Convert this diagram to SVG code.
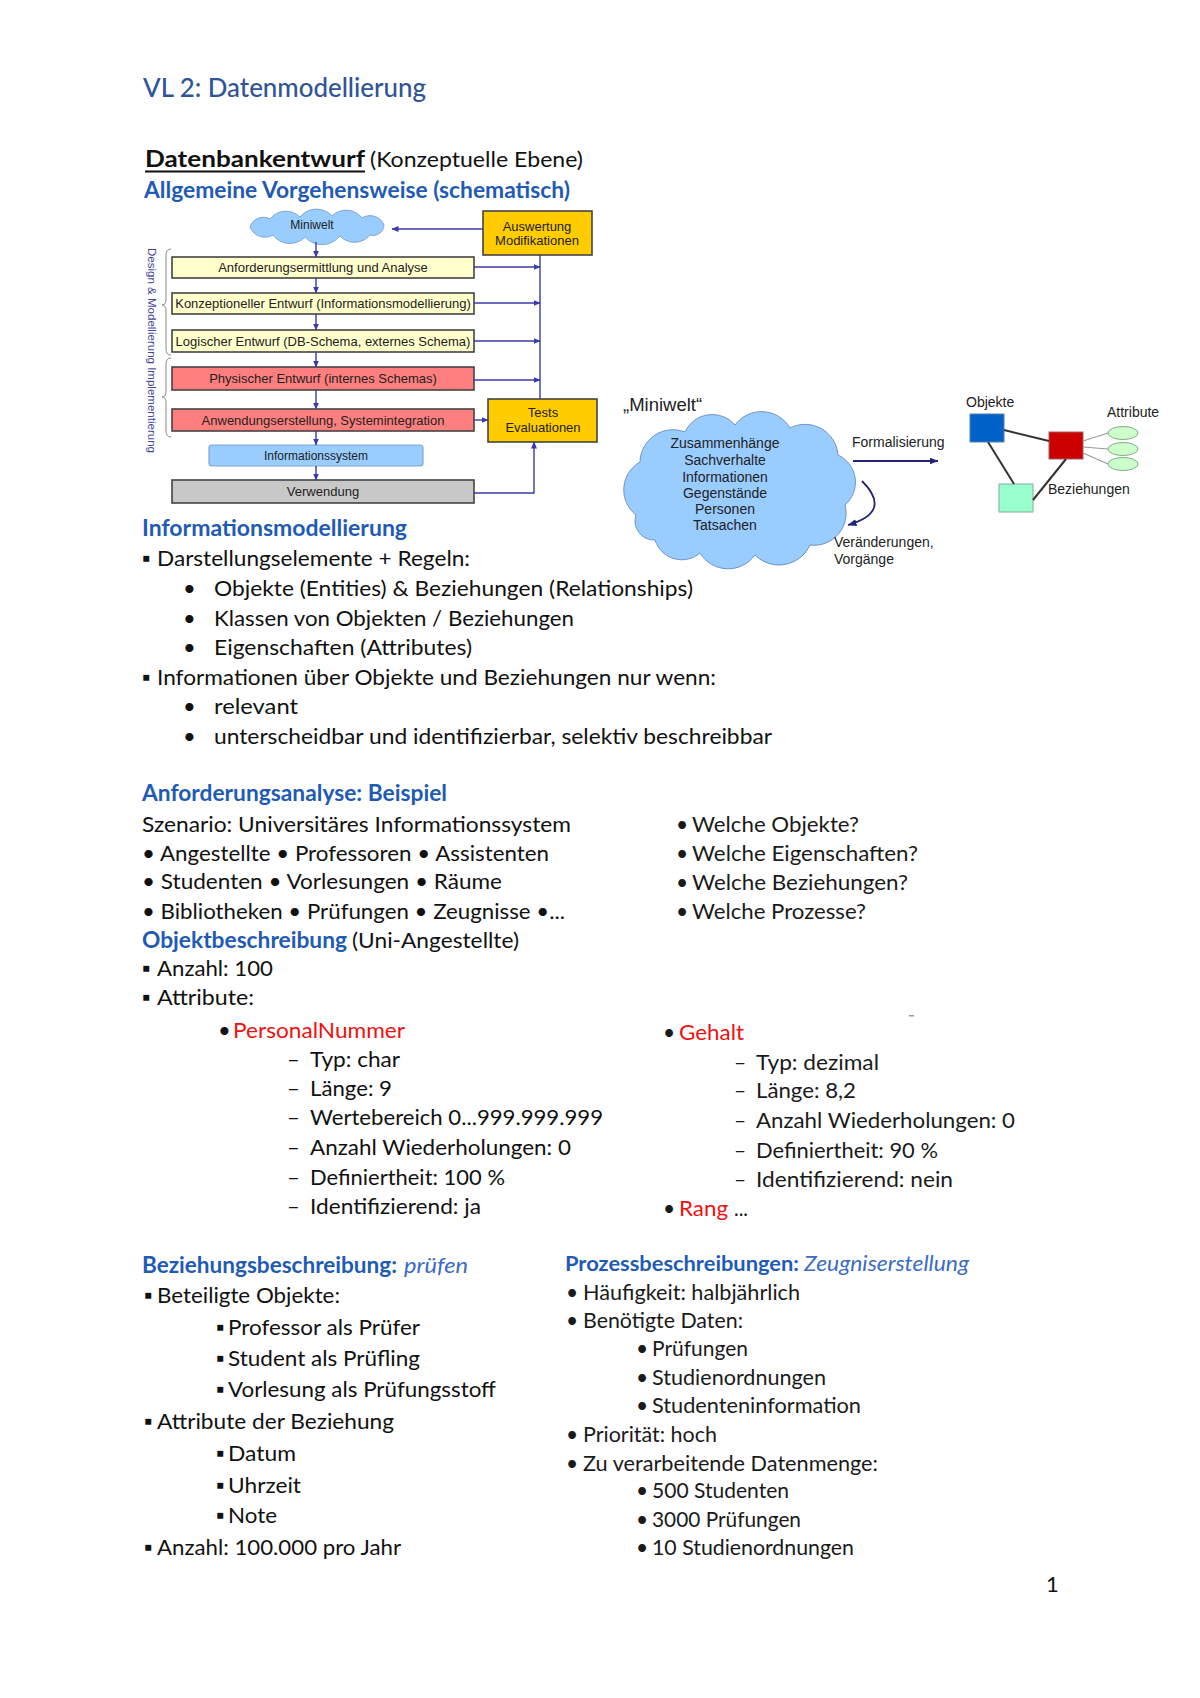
<svg xmlns="http://www.w3.org/2000/svg" width="1200" height="1698" viewBox="0 0 1200 1698">
<defs>
<marker id="ah" markerUnits="userSpaceOnUse" markerWidth="7" markerHeight="6" refX="6.5" refY="3" orient="auto"><path d="M0,0 L7,3 L0,6 z" fill="#3A3AAA"/></marker>
<marker id="ah2" markerUnits="userSpaceOnUse" markerWidth="9" markerHeight="7" refX="8.5" refY="3.5" orient="auto"><path d="M0,0 L9,3.5 L0,7 z" fill="#23237A"/></marker>
</defs>
<style>
.t{font-family:Lato,'Open Sans','DejaVu Sans',sans-serif;font-size:22px;fill:#111}
.s{font-size:21px;fill:#1a1a1a}
.b{font-weight:bold}
.h{font-weight:bold;fill:#1F5BB5}
.i{font-style:italic;font-weight:normal;fill:#3A6CC4}
.r{fill:#F01010}
.a{font-family:'Liberation Sans',Arial,sans-serif;font-size:13px;fill:#222;text-anchor:middle}
.a14{font-family:'Liberation Sans',Arial,sans-serif;font-size:14px;fill:#222}
.bx{stroke:#444;stroke-width:1.6}
.c{stroke:#3A3AAA;stroke-width:1.4;fill:none}
.n{stroke:#23237A;stroke-width:1.8;fill:none}
.er{stroke:#333;stroke-width:2;fill:none}
.eg{stroke:#999;stroke-width:1.2;fill:none}
</style>
<rect width="1200" height="1698" fill="#fff"/>

<g id="header">
<text class="t" x="143" y="97" style="font-size:27px;fill:#2F5597;font-weight:500" textLength="283" lengthAdjust="spacingAndGlyphs">VL 2: Datenmodellierung</text>
<text class="t b" x="145" y="167" textLength="220" lengthAdjust="spacingAndGlyphs">Datenbankentwurf</text>
<line x1="145" y1="171.5" x2="365" y2="171.5" stroke="#111" stroke-width="2"/>
<text class="t" x="370" y="167" textLength="213" lengthAdjust="spacingAndGlyphs">(Konzeptuelle Ebene)</text>
<text class="t h" x="144" y="198" textLength="426" lengthAdjust="spacingAndGlyphs">Allgemeine Vorgehensweise (schematisch)</text>
</g>

<!-- Flowchart -->
<g id="side-label">
<text x="148" y="248" transform="rotate(90 148 248)" style="font-family:'Liberation Sans',Arial,sans-serif;font-size:11.5px;fill:#4646A0" textLength="205" lengthAdjust="spacingAndGlyphs">Design &amp; Modellierung Implementierung</text>
<path d="M171,249 Q166,249 166,255 L166,299 Q166,305 162,305 Q166,305 166,311 L166,349 Q166,355 171,355" fill="none" stroke="#888" stroke-width="1"/>
<path d="M171,358 Q166,358 166,364 L166,391 Q166,397 162,397 Q166,397 166,403 L166,431 Q166,437 171,437" fill="none" stroke="#888" stroke-width="1"/>
</g>

<g id="n-miniwelt">
<path d="M250,227 A14,14 0 0 1 270,219 A20,20 0 0 1 300,217 A21,21 0 0 1 332,216 A20,20 0 0 1 362,218 A15,15 0 0 1 384,225 A11,11 0 0 1 370,235 A20,20 0 0 1 340,236 A23,23 0 0 1 305,237 A21,21 0 0 1 273,235 A16,16 0 0 1 250,227 Z" fill="#99CCFF" stroke="#7FA6D6" stroke-width="1"/>
<text class="a" x="312" y="229" style="font-size:12px">Miniwelt</text>
</g>
<g id="n-auswertung">
<rect x="483" y="211" width="109" height="44" fill="#FFCC00" class="bx"/>
<text class="a" x="537" y="231">Auswertung</text>
<text class="a" x="537" y="245">Modifikationen</text>
</g>
<g id="n-anforderung">
<rect x="172" y="257" width="302" height="21" fill="#FFFFCC" class="bx"/>
<text class="a" x="323" y="272">Anforderungsermittlung und Analyse</text>
</g>
<g id="n-konzeptionell">
<rect x="172" y="293" width="302" height="21" fill="#FFFFCC" class="bx"/>
<text class="a" x="323" y="308">Konzeptioneller Entwurf (Informationsmodellierung)</text>
</g>
<g id="n-logisch">
<rect x="172" y="330" width="302" height="22" fill="#FFFFCC" class="bx"/>
<text class="a" x="323" y="345.5">Logischer Entwurf (DB-Schema, externes Schema)</text>
</g>
<g id="n-physisch">
<rect x="172" y="367" width="302" height="23" fill="#FF7F7F" class="bx"/>
<text class="a" x="323" y="383">Physischer Entwurf (internes Schemas)</text>
</g>
<g id="n-anwendung">
<rect x="172" y="409" width="302" height="22" fill="#FF7F7F" class="bx"/>
<text class="a" x="323" y="424.5">Anwendungserstellung, Systemintegration</text>
</g>
<g id="n-infosystem">
<rect x="209" y="445" width="214" height="21" rx="3" fill="#99CCFF" stroke="#7FA6D6" stroke-width="1.2"/>
<text class="a" x="316" y="460" style="font-size:12px">Informationssystem</text>
</g>
<g id="n-verwendung">
<rect x="172" y="480" width="302" height="23" fill="#C8C8C8" class="bx"/>
<text class="a" x="323" y="496">Verwendung</text>
</g>
<g id="n-tests">
<rect x="488" y="399" width="109" height="43" fill="#FFCC00" class="bx"/>
<text class="a" x="543" y="417">Tests</text>
<text class="a" x="543" y="432">Evaluationen</text>
</g>

<!-- Right diagram -->
<g id="n-miniwelt-cloud">
<text class="a14" x="623" y="411" style="font-size:18.5px">„Miniwelt“</text>
<path d="M636,515 A32,32 0 0 1 640,462 A33,33 0 0 1 685,432 A30,30 0 0 1 735,425 A33,33 0 0 1 790,428 A33,33 0 0 1 838,455 A30,30 0 0 1 845,505 A32,32 0 0 1 810,545 A34,34 0 0 1 755,555 A33,33 0 0 1 700,553 A28,28 0 0 1 655,540 A19,19 0 0 1 636,515 Z" fill="#99CCFF" stroke="#6F93C4" stroke-width="1"/>
<g class="a14" text-anchor="middle">
<text x="725" y="448" text-anchor="middle">Zusammenhänge</text>
<text x="725" y="465" text-anchor="middle">Sachverhalte</text>
<text x="725" y="482" text-anchor="middle">Informationen</text>
<text x="725" y="498" text-anchor="middle">Gegenstände</text>
<text x="725" y="514" text-anchor="middle">Personen</text>
<text x="725" y="530" text-anchor="middle">Tatsachen</text>
</g>
</g>
<g id="labels-right">
<text class="a14" x="852" y="447">Formalisierung</text>
<text class="a14" x="834" y="547">Veränderungen,</text>
<text class="a14" x="834" y="564">Vorgänge</text>
</g>
<g id="n-objekte">
<text class="a14" x="966" y="407">Objekte</text>
<rect x="970" y="414" width="34" height="28" fill="#0062C8" stroke="#5580B0" stroke-width="1"/>
</g>
<g id="n-beziehung-red">
<rect x="1049" y="432" width="34" height="27" fill="#CC0000" stroke="#A06060" stroke-width="1"/>
</g>
<g id="n-beziehung-green">
<rect x="999" y="484" width="34" height="28" fill="#99FFCC" stroke="#88AA99" stroke-width="1"/>
<text class="a14" x="1048" y="494">Beziehungen</text>
</g>
<g id="n-attribute">
<text class="a14" x="1107" y="417">Attribute</text>
<ellipse cx="1123" cy="433" rx="15" ry="6.5" fill="#CCFFCC" stroke="#7FAF7F" stroke-width="1"/>
<ellipse cx="1123" cy="449" rx="15" ry="6.5" fill="#CCFFCC" stroke="#7FAF7F" stroke-width="1"/>
<ellipse cx="1123" cy="464" rx="15" ry="6.5" fill="#CCFFCC" stroke="#7FAF7F" stroke-width="1"/>
</g>

<g id="connectors">
<path class="c" d="M316,242 V257" marker-end="url(#ah)"/>
<path class="c" d="M316,278 V293" marker-end="url(#ah)"/>
<path class="c" d="M316,314 V330" marker-end="url(#ah)"/>
<path class="c" d="M316,352 V367" marker-end="url(#ah)"/>
<path class="c" d="M316,390 V409" marker-end="url(#ah)"/>
<path class="c" d="M316,431 V445" marker-end="url(#ah)"/>
<path class="c" d="M316,466 V480" marker-end="url(#ah)"/>
<path class="c" d="M483,229 H392" marker-end="url(#ah)"/>
<path class="c" d="M540,255 V399"/>
<path class="c" d="M474,267 H540" marker-end="url(#ah)"/>
<path class="c" d="M474,303 H540" marker-end="url(#ah)"/>
<path class="c" d="M474,341 H540" marker-end="url(#ah)"/>
<path class="c" d="M474,380 H540" marker-end="url(#ah)"/>
<path class="c" d="M474,420 H488" marker-end="url(#ah)"/>
<path class="c" d="M474,493 H534 V442" marker-end="url(#ah)"/>
<path class="n" d="M853,461 H938" marker-end="url(#ah2)"/>
<path class="n" d="M862,481 Q893,512 848,525" marker-end="url(#ah2)"/>
<path class="er" d="M1004,430 L1049,441"/>
<path class="er" d="M988,442 L1014,484"/>
<path class="er" d="M1066,459 L1033,500"/>
<path class="eg" d="M1083,441 L1108,433"/>
<path class="eg" d="M1083,447 L1108,449"/>
<path class="eg" d="M1083,453 L1108,464"/>
</g>

<!-- Section A -->
<g id="sec-informationsmodellierung">
<text class="t h" x="142" y="536" textLength="265" lengthAdjust="spacingAndGlyphs">Informationsmodellierung</text>
<text class="t" x="142" y="566">▪</text>
<text class="t" x="157" y="566" textLength="313" lengthAdjust="spacingAndGlyphs">Darstellungselemente + Regeln:</text>
<text class="t" x="183" y="596">•</text>
<text class="t" x="214" y="596" textLength="479" lengthAdjust="spacingAndGlyphs">Objekte (Entities) &amp; Beziehungen (Relationships)</text>
<text class="t" x="183" y="626">•</text>
<text class="t" x="214" y="626" textLength="360" lengthAdjust="spacingAndGlyphs">Klassen von Objekten / Beziehungen</text>
<text class="t" x="183" y="655">•</text>
<text class="t" x="214" y="655" textLength="258" lengthAdjust="spacingAndGlyphs">Eigenschaften (Attributes)</text>
<text class="t" x="142" y="685">▪</text>
<text class="t" x="157" y="685" textLength="559" lengthAdjust="spacingAndGlyphs">Informationen über Objekte und Beziehungen nur wenn:</text>
<text class="t" x="183" y="714">•</text>
<text class="t" x="214" y="714" textLength="84" lengthAdjust="spacingAndGlyphs">relevant</text>
<text class="t" x="183" y="744">•</text>
<text class="t" x="214" y="744" textLength="558" lengthAdjust="spacingAndGlyphs">unterscheidbar und identifizierbar, selektiv beschreibbar</text>
</g>

<!-- Section B -->
<g id="sec-anforderungsanalyse">
<text class="t h" x="142" y="801" textLength="305" lengthAdjust="spacingAndGlyphs">Anforderungsanalyse: Beispiel</text>
<text class="t" x="142" y="832" textLength="429" lengthAdjust="spacingAndGlyphs">Szenario: Universitäres Informationssystem</text>
<text class="t" x="142" y="861" textLength="407" lengthAdjust="spacingAndGlyphs">• Angestellte • Professoren • Assistenten</text>
<text class="t" x="142" y="889" textLength="360" lengthAdjust="spacingAndGlyphs">• Studenten • Vorlesungen • Räume</text>
<text class="t" x="142" y="919" textLength="423" lengthAdjust="spacingAndGlyphs">• Bibliotheken • Prüfungen • Zeugnisse •...</text>
<text class="t s" x="676" y="832">•</text>
<text class="t s" x="692" y="832" textLength="167" lengthAdjust="spacingAndGlyphs">Welche Objekte?</text>
<text class="t s" x="676" y="861">•</text>
<text class="t s" x="692" y="861" textLength="226" lengthAdjust="spacingAndGlyphs">Welche Eigenschaften?</text>
<text class="t s" x="676" y="890">•</text>
<text class="t s" x="692" y="890" textLength="216" lengthAdjust="spacingAndGlyphs">Welche Beziehungen?</text>
<text class="t s" x="676" y="919">•</text>
<text class="t s" x="692" y="919" textLength="174" lengthAdjust="spacingAndGlyphs">Welche Prozesse?</text>
</g>

<g id="sec-objektbeschreibung">
<text class="t h" x="142" y="948" textLength="205" lengthAdjust="spacingAndGlyphs">Objektbeschreibung</text>
<text class="t" x="352" y="948" textLength="167" lengthAdjust="spacingAndGlyphs">(Uni-Angestellte)</text>
<text class="t" x="142" y="976">▪</text>
<text class="t" x="157" y="976" textLength="116" lengthAdjust="spacingAndGlyphs">Anzahl: 100</text>
<text class="t" x="142" y="1005">▪</text>
<text class="t" x="157" y="1005" textLength="97" lengthAdjust="spacingAndGlyphs">Attribute:</text>
<rect x="909" y="1015" width="5" height="1.5" fill="#999"/>
<text class="t" x="218" y="1038">•</text>
<text class="t r" x="233" y="1038" textLength="172" lengthAdjust="spacingAndGlyphs">PersonalNummer</text>
<text class="t" x="287" y="1067">–</text>
<text class="t" x="310" y="1067" textLength="90" lengthAdjust="spacingAndGlyphs">Typ: char</text>
<text class="t" x="287" y="1096">–</text>
<text class="t" x="310" y="1096" textLength="82" lengthAdjust="spacingAndGlyphs">Länge: 9</text>
<text class="t" x="287" y="1125">–</text>
<text class="t" x="310" y="1125" textLength="293" lengthAdjust="spacingAndGlyphs">Wertebereich 0...999.999.999</text>
<text class="t" x="287" y="1155">–</text>
<text class="t" x="310" y="1155" textLength="261" lengthAdjust="spacingAndGlyphs">Anzahl Wiederholungen: 0</text>
<text class="t" x="287" y="1185">–</text>
<text class="t" x="310" y="1185" textLength="195" lengthAdjust="spacingAndGlyphs">Definiertheit: 100 %</text>
<text class="t" x="287" y="1214">–</text>
<text class="t" x="310" y="1214" textLength="171" lengthAdjust="spacingAndGlyphs">Identifizierend: ja</text>
<text class="t s" x="663" y="1040">•</text>
<text class="t s r" x="679" y="1040" textLength="65" lengthAdjust="spacingAndGlyphs">Gehalt</text>
<text class="t s" x="734" y="1070">–</text>
<text class="t s" x="756" y="1070" textLength="123" lengthAdjust="spacingAndGlyphs">Typ: dezimal</text>
<text class="t s" x="734" y="1098">–</text>
<text class="t s" x="756" y="1098" textLength="100" lengthAdjust="spacingAndGlyphs">Länge: 8,2</text>
<text class="t s" x="734" y="1128">–</text>
<text class="t s" x="756" y="1128" textLength="259" lengthAdjust="spacingAndGlyphs">Anzahl Wiederholungen: 0</text>
<text class="t s" x="734" y="1158">–</text>
<text class="t s" x="756" y="1158" textLength="182" lengthAdjust="spacingAndGlyphs">Definiertheit: 90 %</text>
<text class="t s" x="734" y="1187">–</text>
<text class="t s" x="756" y="1187" textLength="197" lengthAdjust="spacingAndGlyphs">Identifizierend: nein</text>
<text class="t s" x="663" y="1216">•</text>
<text class="t s r" x="679" y="1216" textLength="49" lengthAdjust="spacingAndGlyphs">Rang</text>
<text class="t s" x="734" y="1216" textLength="14" lengthAdjust="spacingAndGlyphs">...</text>
</g>

<!-- Section C -->
<g id="sec-beziehungsbeschreibung">
<text class="t h" x="142" y="1273" textLength="255" lengthAdjust="spacingAndGlyphs">Beziehungsbeschreibung:</text>
<text class="t i" x="404" y="1273" textLength="64" lengthAdjust="spacingAndGlyphs">prüfen</text>
<text class="t" x="144" y="1303">▪</text>
<text class="t" x="157" y="1303" textLength="183" lengthAdjust="spacingAndGlyphs">Beteiligte Objekte:</text>
<text class="t" x="216" y="1335">▪</text>
<text class="t" x="228" y="1335" textLength="192" lengthAdjust="spacingAndGlyphs">Professor als Prüfer</text>
<text class="t" x="216" y="1366">▪</text>
<text class="t" x="228" y="1366" textLength="192" lengthAdjust="spacingAndGlyphs">Student als Prüfling</text>
<text class="t" x="216" y="1397">▪</text>
<text class="t" x="228" y="1397" textLength="268" lengthAdjust="spacingAndGlyphs">Vorlesung als Prüfungsstoff</text>
<text class="t" x="144" y="1429">▪</text>
<text class="t" x="157" y="1429" textLength="237" lengthAdjust="spacingAndGlyphs">Attribute der Beziehung</text>
<text class="t" x="216" y="1461">▪</text>
<text class="t" x="228" y="1461" textLength="68" lengthAdjust="spacingAndGlyphs">Datum</text>
<text class="t" x="216" y="1493">▪</text>
<text class="t" x="228" y="1493" textLength="73" lengthAdjust="spacingAndGlyphs">Uhrzeit</text>
<text class="t" x="216" y="1523">▪</text>
<text class="t" x="228" y="1523" textLength="49" lengthAdjust="spacingAndGlyphs">Note</text>
<text class="t" x="144" y="1555">▪</text>
<text class="t" x="157" y="1555" textLength="244" lengthAdjust="spacingAndGlyphs">Anzahl: 100.000 pro Jahr</text>
</g>

<!-- Section D -->
<g id="sec-prozessbeschreibungen">
<text class="t h" x="565" y="1271" style="font-size:21px" textLength="234" lengthAdjust="spacingAndGlyphs">Prozessbeschreibungen:</text>
<text class="t i" x="804" y="1271" style="font-size:21px" textLength="165" lengthAdjust="spacingAndGlyphs">Zeugniserstellung</text>
<text class="t s" x="566" y="1300">•</text>
<text class="t s" x="583" y="1300" textLength="217" lengthAdjust="spacingAndGlyphs">Häufigkeit: halbjährlich</text>
<text class="t s" x="566" y="1328">•</text>
<text class="t s" x="583" y="1328" textLength="160" lengthAdjust="spacingAndGlyphs">Benötigte Daten:</text>
<text class="t s" x="636" y="1356">•</text>
<text class="t s" x="652" y="1356" textLength="96" lengthAdjust="spacingAndGlyphs">Prüfungen</text>
<text class="t s" x="636" y="1385">•</text>
<text class="t s" x="652" y="1385" textLength="174" lengthAdjust="spacingAndGlyphs">Studienordnungen</text>
<text class="t s" x="636" y="1413">•</text>
<text class="t s" x="652" y="1413" textLength="209" lengthAdjust="spacingAndGlyphs">Studenteninformation</text>
<text class="t s" x="566" y="1442">•</text>
<text class="t s" x="583" y="1442" textLength="134" lengthAdjust="spacingAndGlyphs">Priorität: hoch</text>
<text class="t s" x="566" y="1471">•</text>
<text class="t s" x="583" y="1471" textLength="295" lengthAdjust="spacingAndGlyphs">Zu verarbeitende Datenmenge:</text>
<text class="t s" x="636" y="1498">•</text>
<text class="t s" x="652" y="1498" textLength="137" lengthAdjust="spacingAndGlyphs">500 Studenten</text>
<text class="t s" x="636" y="1527">•</text>
<text class="t s" x="652" y="1527" textLength="149" lengthAdjust="spacingAndGlyphs">3000 Prüfungen</text>
<text class="t s" x="636" y="1555">•</text>
<text class="t s" x="652" y="1555" textLength="202" lengthAdjust="spacingAndGlyphs">10 Studienordnungen</text>
</g>

<g id="page-number">
<text class="t" x="1046" y="1592">1</text>
</g>
</svg>
